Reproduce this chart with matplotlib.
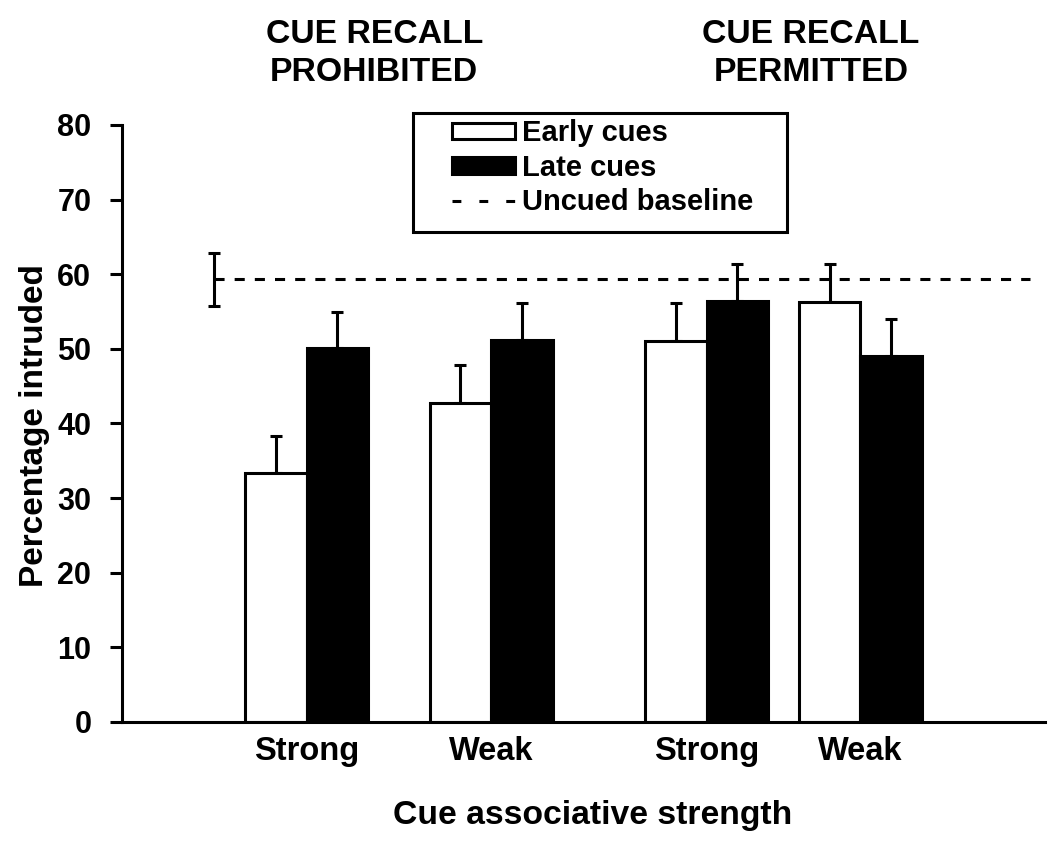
import matplotlib.pyplot as plt
import matplotlib.transforms as mtransforms
from matplotlib.patches import Patch, Rectangle
from matplotlib.lines import Line2D

# values
group_labels = ["Strong", "Weak", "Strong", "Weak"]
group_pos = [3, 6, 9.5, 12]
early = [33.3, 42.7, 51.0, 56.3]
early_err = [5.0, 5.1, 5.1, 5.1]
late = [50.1, 51.2, 56.4, 49.1]
late_err = [4.9, 4.9, 5.0, 4.9]
baseline = 59.3
baseline_err = 3.6
panel_titles = ["CUE RECALL\nPROHIBITED", "CUE RECALL\nPERMITTED"]
panel_title_pos = [4.1, 11.2]
legend_labels = ["Early cues", "Late cues", "Uncued baseline"]

plt.rcParams['font.family'] = ['Liberation Sans', 'DejaVu Sans']
plt.rcParams['font.weight'] = 'bold'

fig = plt.figure(figsize=(10.5, 8.41), dpi=100)
ax = fig.add_axes([0.1162, 0.1415, 0.8790, 0.7099])

lw = 2.2
x_early = [p - 0.5 for p in group_pos]
x_late = [p + 0.5 for p in group_pos]

ax.bar(x_early, early, width=1, color='white', edgecolor='black', linewidth=lw, zorder=2)
ax.bar(x_late, late, width=1, color='black', edgecolor='black', linewidth=lw, zorder=2)

ax.errorbar(x_early, early, yerr=[[0] * 4, early_err], fmt='none', ecolor='black',
            elinewidth=lw, capsize=4.5, capthick=lw, zorder=1)
ax.errorbar(x_late, late, yerr=[[0] * 4, late_err], fmt='none', ecolor='black',
            elinewidth=lw, capsize=4.5, capthick=lw, zorder=1)

# uncued baseline
ax.plot([1.5, 14.75], [baseline, baseline], color='black', lw=lw,
        dashes=(3.3, 3.3), zorder=3)
ax.errorbar([1.5], [baseline], yerr=baseline_err, fmt='none', ecolor='black',
            elinewidth=lw, capsize=4.5, capthick=lw, zorder=3)

ax.set_xlim(0, 15)
ax.set_ylim(0, 80)
ax.set_yticks(range(0, 81, 10))
ax.set_xticks(group_pos)
ax.set_xticklabels(group_labels, fontsize=23.5, fontweight='bold')
ax.tick_params(axis='x', length=0, pad=10)
ax.tick_params(axis='y', length=8.6, width=lw, labelsize=22, pad=13.5)
for t in ax.get_yticklabels():
    t.set_fontweight('bold')

for side in ['top', 'right']:
    ax.spines[side].set_visible(False)
for side in ['left', 'bottom']:
    ax.spines[side].set_linewidth(lw)

ax.set_ylabel("Percentage intruded", fontsize=24, fontweight='bold')
ax.yaxis.set_label_coords(-0.078, 0.497)
ax.set_xlabel("Cue associative strength", fontsize=24.3, fontweight='bold')
ax.xaxis.set_label_coords(0.51, -0.13)

trans = mtransforms.blended_transform_factory(ax.transData, fig.transFigure)
for x, title in zip(panel_title_pos, panel_titles):
    ax.text(x, 0.936, title, transform=trans, ha='center', va='center',
            fontsize=24.3, fontweight='bold', linespacing=1.3)

# legend box drawn separately for its wide side padding
fig.patches.append(Rectangle((0.3933, 0.7241), 0.3562, 0.1415, transform=fig.transFigure,
                             facecolor='white', edgecolor='black', linewidth=lw, zorder=4))
handles = [Patch(facecolor='white', edgecolor='black', linewidth=lw),
           Patch(facecolor='black', edgecolor='black', linewidth=lw),
           Line2D([0], [0], color='black', lw=lw, dashes=(2.9, 5.9))]
leg = fig.legend(handles, legend_labels, loc='upper left',
                 bbox_to_anchor=(0.4305, 0.858), fontsize=21, frameon=False,
                 borderpad=0, labelspacing=0.22, handlelength=2.16,
                 handleheight=0.5, handletextpad=0.25, borderaxespad=0)
leg.set_zorder(5)
for t in leg.get_texts():
    t.set_fontweight('bold')

fig.savefig("out.png", dpi=100)
